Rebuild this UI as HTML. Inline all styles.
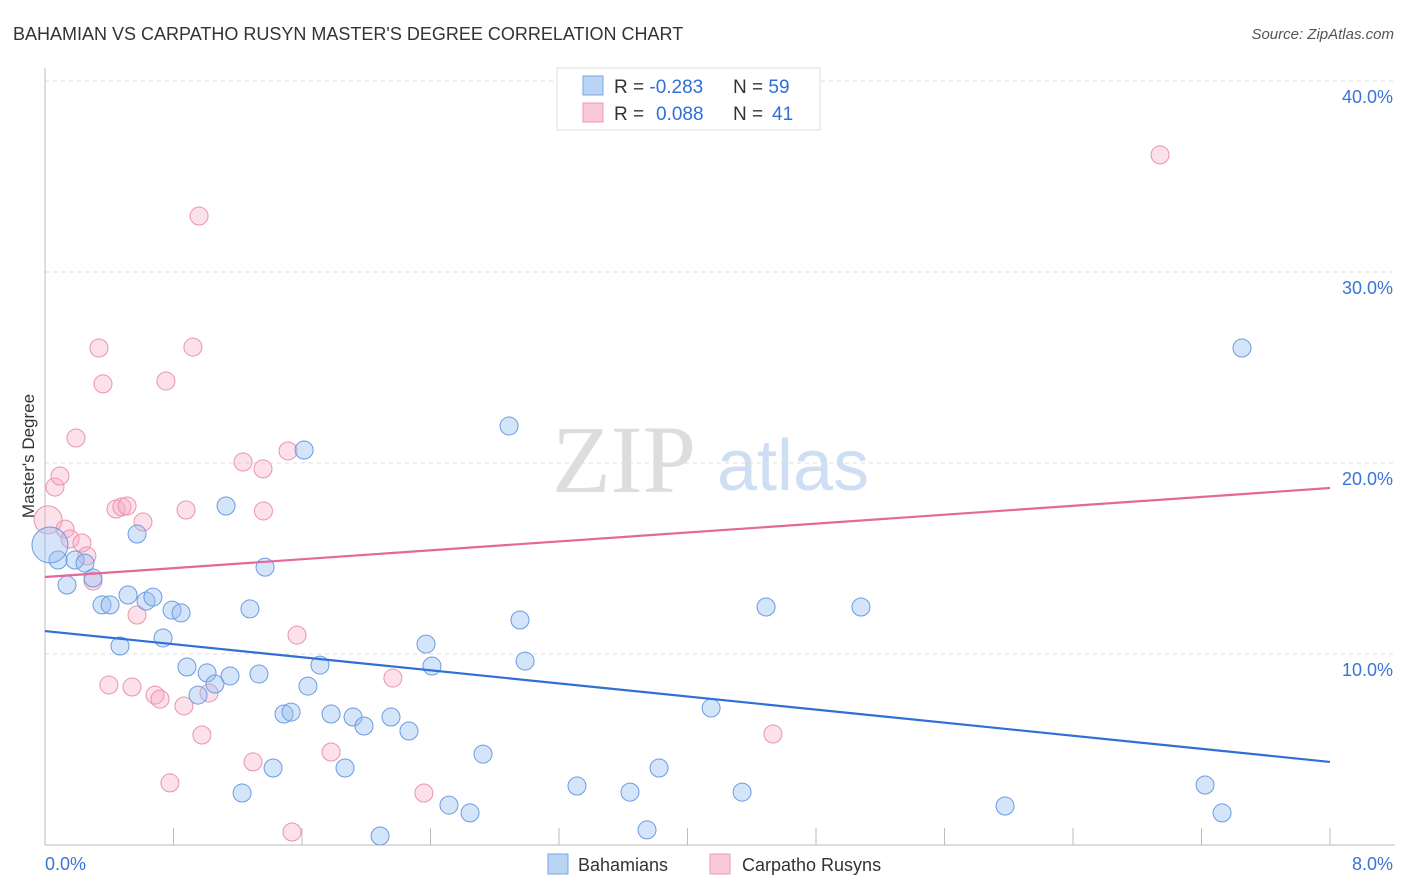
<!DOCTYPE html>
<html><head><meta charset="utf-8"><style>
body{margin:0;background:#fff;width:1406px;height:892px;overflow:hidden;font-family:"Liberation Sans",sans-serif}
svg{display:block}
</style></head><body>
<svg id="chart" width="1406" height="892">
<text x="13" y="40" font-size="18" fill="#333">BAHAMIAN VS CARPATHO RUSYN MASTER'S DEGREE CORRELATION CHART</text>
<text x="1394" y="39" font-size="15" fill="#555" font-style="italic" text-anchor="end">Source: ZipAtlas.com</text>
<text transform="translate(34,456) rotate(-90)" font-size="17" fill="#333" text-anchor="middle">Master's Degree</text>
<g>
<text x="552" y="492" font-family="Liberation Serif,serif" font-size="96" fill="#ddd">ZIP</text>
<text x="717" y="490" font-size="72" fill="#cfdff3">atlas</text>
</g>
<g id="grid"></g><g id="axes"></g><g id="pts"></g><g id="trend"></g>
<g>
<rect x="557" y="68" width="263" height="62" fill="#fff" stroke="#ddd"/>
<rect x="583" y="76" width="20" height="19" fill="#bcd4f4" stroke="#7aa6e6"/>
<rect x="583" y="103" width="20" height="19" fill="#f9c9d7" stroke="#ee9ab4"/>
<text x="614" y="93" font-size="19" fill="#333">R = <tspan fill="#2f6fd6">-0.283</tspan><tspan x="733">N = </tspan><tspan fill="#2f6fd6">59</tspan></text>
<text x="614" y="120" font-size="19" fill="#333">R = <tspan x="656" fill="#2f6fd6">0.088</tspan><tspan x="733">N = </tspan><tspan x="772" fill="#2f6fd6">41</tspan></text>
</g>
<g>
<rect x="548" y="854" width="20" height="20" fill="#bcd4f4" stroke="#7aa6e6"/>
<text x="578" y="871" font-size="18" fill="#333">Bahamians</text>
<rect x="710" y="854" width="20" height="20" fill="#f9c9d7" stroke="#ee9ab4"/>
<text x="742" y="871" font-size="18" fill="#333">Carpatho Rusyns</text>
</g>
</svg>
<script>
const yTicks=[10,20,30,40];
const yTickLabels=["10.0%","20.0%","30.0%","40.0%"];
const xTickLabels=["0.0%","8.0%"];
const blueX=[0.081,0.137,0.187,0.249,0.299,0.355,0.405,0.467,0.517,0.573,0.629,0.672,0.735,0.791,0.847,0.884,0.953,1.009,1.058,1.152,1.127,1.276,1.332,1.370,1.420,1.227,1.488,1.532,1.613,1.637,1.712,1.781,1.868,1.918,1.986,2.086,2.154,2.266,2.372,2.409,2.515,2.646,2.727,2.889,2.957,2.989,3.312,3.642,3.748,3.823,4.147,4.340,4.489,5.080,5.977,7.222,7.328,7.452,0.031];
const blueY=[14.92,13.61,14.92,14.76,13.98,12.57,12.57,10.42,13.09,16.28,12.77,12.98,10.84,12.30,12.15,9.32,7.85,9.01,8.43,8.85,17.75,12.36,8.95,14.55,4.03,2.72,6.86,6.96,20.68,8.32,9.42,6.86,4.03,6.70,6.23,0.47,6.70,5.97,10.52,9.37,2.09,1.68,4.76,21.94,11.78,9.63,3.09,2.77,0.79,4.03,7.17,2.77,12.46,12.46,2.04,3.14,1.68,26.02,15.71];
const pinkX=[0.019,0.062,0.093,0.125,0.156,0.193,0.230,0.261,0.299,0.336,0.361,0.398,0.442,0.479,0.511,0.542,0.573,0.610,0.685,0.716,0.753,0.778,0.865,0.878,0.921,0.959,0.977,1.021,1.233,1.295,1.357,1.36,1.513,1.538,1.569,1.781,2.166,2.359,4.532,6.942];
const pinkY=[17.02,18.74,19.32,16.54,16.02,21.31,15.81,15.13,13.82,26.02,24.14,8.38,17.59,17.70,17.75,8.27,12.04,16.91,7.85,7.64,24.29,3.25,7.28,17.54,26.07,32.93,5.76,7.96,20.05,4.35,19.69,17.49,20.63,0.68,10.99,4.87,8.74,2.72,5.81,36.13];
const blueTrend=[11.20,4.35];
const pinkTrend=[14.03,18.69];
const NS="http://www.w3.org/2000/svg";
const X=v=>45+v/8*1285, Y=v=>845-v*19.1;
function mk(p,t,a){const e=document.createElementNS(NS,t);for(const k in a)e.setAttribute(k,a[k]);p.appendChild(e);return e;}
const grid=document.getElementById('grid'),axes=document.getElementById('axes'),pts=document.getElementById('pts'),tr=document.getElementById('trend');
yTicks.forEach((t,i)=>{
 const l=mk(grid,'line',{x1:45,x2:1395,y1:Y(t),y2:Y(t),stroke:'#ddd','stroke-dasharray':'4,4'});
 
 
 const tx=mk(grid,'text',{x:1393,y:Y(t)+22,'font-size':18,fill:'#3a74d6','text-anchor':'end'});
 tx.textContent=yTickLabels[i];
 
 
});
const ax=mk(axes,'line',{x1:45,x2:1395,y1:845,y2:845,stroke:'#bbb'});


const ay=mk(axes,'line',{x1:45,x2:45,y1:68,y2:845,stroke:'#bbb'});


for(let i=0;i<=10;i++){const t=mk(axes,'line',{x1:X(i*0.8),x2:X(i*0.8),y1:828,y2:845,stroke:'#bbb'});
 
 }
[[0,'start'],[8,'end']].forEach((d,i)=>{const t=mk(axes,'text',{x:i?1393:45,y:870,'font-size':18,fill:'#3a74d6','text-anchor':d[1]});t.textContent=xTickLabels[i];
 
 });
pinkX.forEach((x,i)=>{const c=mk(pts,'circle',{cx:X(x),cy:Y(pinkY[i]),r:i==0?14:9,fill:'rgba(245,170,195,0.35)',stroke:'#eb93ae','stroke-width':1});
 
 });
blueX.forEach((x,i)=>{const c=mk(pts,'circle',{cx:X(x),cy:Y(blueY[i]),r:i==blueX.length-1?18:9,fill:'rgba(150,190,240,0.4)',stroke:'#6a9be3','stroke-width':1});
 
 });
const bl=mk(tr,'line',{x1:X(0),x2:X(8),y1:Y(blueTrend[0]),y2:Y(blueTrend[1]),stroke:'#2f6fd6','stroke-width':2.2});


const pl=mk(tr,'line',{x1:X(0),x2:X(8),y1:Y(pinkTrend[0]),y2:Y(pinkTrend[1]),stroke:'#e4689a','stroke-width':2.2});


</script>
</body></html>
